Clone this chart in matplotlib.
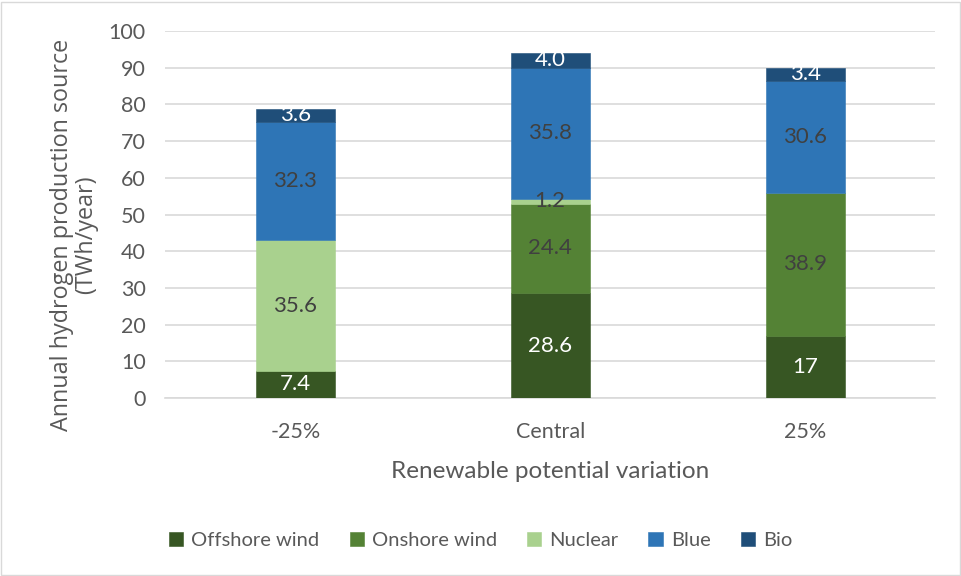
import matplotlib
matplotlib.use('Agg')
import matplotlib.pyplot as plt
import numpy as np

plt.rcParams['font.family'] = ['Lato', 'DejaVu Sans']

scenarios = ['-25%', 'Central', '25%']
sources = ['Offshore wind', 'Onshore wind', 'Nuclear', 'Blue', 'Bio']
offshore = [7.4, 28.6, 17]
onshore = [0, 24.4, 38.9]
nuclear = [35.6, 1.2, 0]
blue = [32.3, 35.8, 30.6]
bio = [3.6, 4.0, 3.4]
labels = [['7.4', '28.6', '17'], ['', '24.4', '38.9'], ['35.6', '1.2', ''],
          ['32.3', '35.8', '30.6'], ['3.6', '4.0', '3.4']]

colors = ['#375623', '#548235', '#A9D18E', '#2E75B6', '#1F4E79']
text_colors = ['white', '#404040', '#404040', '#404040', 'white']

fig = plt.figure(figsize=(9.61, 5.76), dpi=100)
ax = fig.add_axes([0.172, 0.309, 0.801, 0.637])

x = np.arange(len(scenarios))
bottom = np.zeros(len(scenarios))
handles = []
for vals, lab, c, tc, name in zip([offshore, onshore, nuclear, blue, bio], labels,
                                  colors, text_colors, sources):
    vals = np.array(vals, dtype=float)
    b = ax.bar(x, vals, 0.31, bottom=bottom, color=c, edgecolor=c,
               linewidth=0.4, label=name, zorder=3)
    handles.append(b)
    for xi, v, bt, t in zip(x, vals, bottom, lab):
        if t:
            ax.text(xi, bt + v / 2, t, ha='center', va='center', fontsize=16,
                    color=tc, zorder=4)
    bottom += vals

ax.set_xlim(-0.51, 2.51)
ax.set_ylim(0, 100)
ax.set_yticks(range(0, 101, 10))
ax.set_xticks(x)
ax.set_xticklabels(scenarios)
ax.tick_params(axis='both', length=0, labelsize=15.5, colors='#595959')
ax.tick_params(axis='x', pad=17)
ax.tick_params(axis='y', pad=14)
ax.grid(axis='y', color='#d9d9d9', linewidth=1.2, zorder=0)
for s in ['top', 'right', 'left']:
    ax.spines[s].set_visible(False)
ax.spines['bottom'].set_color('#d9d9d9')
ax.spines['bottom'].set_linewidth(1.2)

ax.set_xlabel('Renewable potential variation', fontsize=17.5, color='#595959', labelpad=14)
ax.set_ylabel('Annual hydrogen production source\n(TWh/year)', fontsize=16.8,
              color='#595959', family=['Open Sans', 'DejaVu Sans'],
              linespacing=1.0)
ax.yaxis.set_label_coords(-0.087, 0.445)

fig.legend(handles=handles, labels=sources, loc='center', bbox_to_anchor=(0.5, 0.062),
           ncol=5, frameon=False, fontsize=14.5, labelcolor='#595959',
           handlelength=0.7, handleheight=0.7, handletextpad=0.4, columnspacing=1.5)

fig.patches.append(plt.Rectangle((0.001, 0.001), 0.998, 0.996, transform=fig.transFigure,
                                 fill=False, edgecolor='#d9d9d9', linewidth=1))

fig.savefig('out.png', dpi=100)
